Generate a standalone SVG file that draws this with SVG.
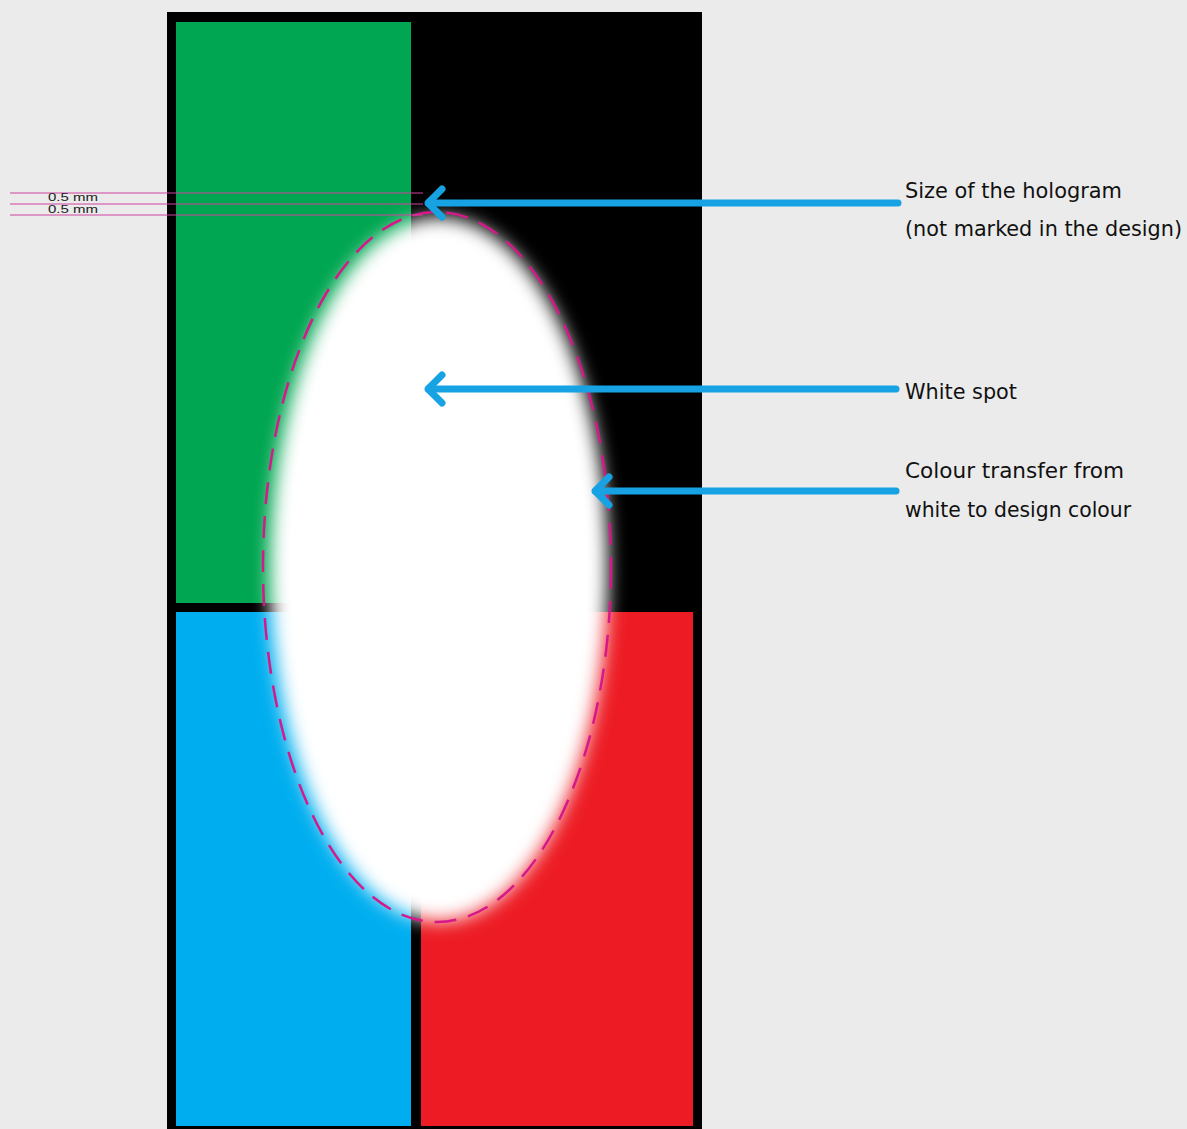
<svg xmlns="http://www.w3.org/2000/svg" width="1187" height="1129" viewBox="0 0 1187 1129">
<defs>
<filter id="soft" x="-30%" y="-30%" width="160%" height="160%"><feGaussianBlur stdDeviation="9"/></filter>
<marker id="chev" markerUnits="userSpaceOnUse" markerWidth="40" markerHeight="40" refX="2" refY="20" orient="auto" viewBox="0 0 40 40">
<path d="M16 6 L2 20 L16 34" fill="none" stroke="#17a2e3" stroke-width="7" stroke-linecap="round" stroke-linejoin="round"/>
</marker>
</defs>
<style>
.lbl{font-family:"DejaVu Sans Condensed","DejaVu Sans",sans-serif;font-size:22px;fill:#111}
.dim{font-family:"Liberation Sans Narrow","Liberation Sans",sans-serif;font-size:11px;fill:#222}
.arrow{stroke:#17a2e3;stroke-width:7;stroke-linecap:round;fill:none;marker-start:url(#chev)}
.guide{stroke:#d040a0;stroke-width:1}
</style>
<rect width="1187" height="1129" fill="#ebebeb"/>
<g id="card">
<rect x="167" y="12" width="535" height="1130" fill="#000"/>
<rect x="176" y="22" width="235" height="581" fill="#00a651"/>
<rect x="176" y="612" width="235" height="514" fill="#00aeef"/>
<rect x="421" y="612" width="272" height="514" fill="#ed1c24"/>
</g>
<g id="white-spot">
<ellipse cx="439" cy="569" rx="169" ry="352" fill="#fff" filter="url(#soft)"/>
</g>
<g id="hologram-outline">
<ellipse cx="437" cy="567" rx="174" ry="355" fill="none" stroke="#d6188a" stroke-width="2.5" stroke-dasharray="22 12"/>
</g>
<g id="dimensions">
<line class="guide" x1="10" y1="193" x2="423" y2="193"/>
<line class="guide" x1="10" y1="204" x2="423" y2="204"/>
<line class="guide" x1="10" y1="215" x2="423" y2="215"/>
<text class="dim" x="48" y="201" textLength="50" lengthAdjust="spacingAndGlyphs">0.5 mm</text>
<text class="dim" x="48" y="213" textLength="50" lengthAdjust="spacingAndGlyphs">0.5 mm</text>
</g>
<g id="connectors">
<line class="arrow" x1="428" y1="203" x2="898" y2="203"/>
<line class="arrow" x1="428" y1="389" x2="896" y2="389"/>
<line class="arrow" x1="595" y1="491" x2="896" y2="491"/>
</g>
<g id="label-size">
<text class="lbl" x="905" y="198" textLength="217" lengthAdjust="spacingAndGlyphs">Size of the hologram</text>
<text class="lbl" x="905" y="236" textLength="277" lengthAdjust="spacingAndGlyphs">(not marked in the design)</text>
</g>
<g id="label-white">
<text class="lbl" x="905" y="399" textLength="112" lengthAdjust="spacingAndGlyphs">White spot</text>
</g>
<g id="label-transfer">
<text class="lbl" x="905" y="478" textLength="219" lengthAdjust="spacingAndGlyphs">Colour transfer from</text>
<text class="lbl" x="905" y="517" textLength="226" lengthAdjust="spacingAndGlyphs">white to design colour</text>
</g>
</svg>
